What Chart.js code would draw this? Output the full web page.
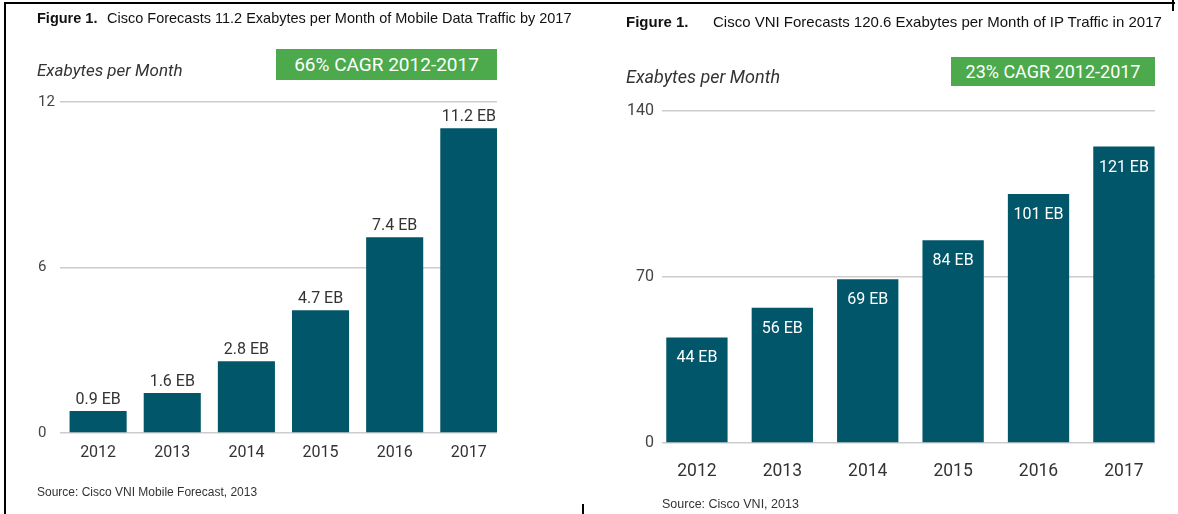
<!DOCTYPE html>
<html>
<head>
<meta charset="utf-8">
<script src="https://cdn.jsdelivr.net/npm/chart.js@4.4.1/dist/chart.umd.min.js"></script>
<style>
  html, body { margin: 0; padding: 0; background: #fff; }
  #page { position: relative; width: 1178px; height: 514px; overflow: hidden; font-family: Roboto, sans-serif; }
  canvas { position: absolute; top: 0; }
  .txt { position: absolute; white-space: nowrap; }
  .fig { font-family: "Liberation Sans", Arial, sans-serif; color: #111; }
  .fig b { font-weight: bold; }
  .unit { font-style: italic; color: #333; }
  .cagr { position: absolute; background: #4caa4c; color: #fff; text-align: center; }
  .src { font-family: "Liberation Sans", Arial, sans-serif; color: #333; }
  .line { position: absolute; background: #000; }
</style>
</head>
<body>
<div id="page">
  <canvas id="chartMobile" width="590" height="514" style="left:0;width:590px;height:514px"></canvas>
  <canvas id="chartIP" width="588" height="514" style="left:590px;width:588px;height:514px"></canvas>

  <!-- kiri -->
  <div class="txt fig" style="left:37px;top:10px;font-size:14.5px;"><b>Figure 1.</b></div>
  <div class="txt fig" style="left:107px;top:10px;font-size:14.5px;">Cisco Forecasts 11.2 Exabytes per Month of Mobile Data Traffic by 2017</div>
  <div class="txt unit" style="left:37px;top:60px;font-size:17px;">Exabytes per Month</div>
  <div class="cagr" style="left:276px;top:49px;width:221px;height:31px;line-height:31px;font-size:19px;">66% CAGR 2012-2017</div>
  <div class="txt src" style="left:37px;top:485px;font-size:12px;">Source: Cisco VNI Mobile Forecast, 2013</div>

  <!-- kanan -->
  <div class="txt fig" style="left:626px;top:13px;font-size:15px;"><b>Figure 1.</b></div>
  <div class="txt fig" style="left:713px;top:13px;font-size:15px;">Cisco VNI Forecasts 120.6 Exabytes per Month of IP Traffic in 2017</div>
  <div class="txt unit" style="left:626px;top:66px;font-size:18px;">Exabytes per Month</div>
  <div class="cagr" style="left:951px;top:57px;width:204px;height:29px;line-height:29px;font-size:18px;">23% CAGR 2012-2017</div>
  <div class="txt src" style="left:662px;top:497px;font-size:12.5px;">Source: Cisco VNI, 2013</div>

  <!-- garis tepi -->
  <div class="line" style="left:4px;top:2px;width:2px;height:512px;"></div>
  <div class="line" style="left:4px;top:2px;width:1171px;height:2px;"></div>
  <div class="line" style="left:1172px;top:0;width:2px;height:11px;"></div>
  <div class="line" style="left:582px;top:504px;width:2px;height:10px;"></div>
</div>

<script>
const years = ["2012", "2013", "2014", "2015", "2016", "2017"];

// bar heights as drawn in the picture, labels as printed
const mobileEB = [0.8, 1.45, 2.6, 4.45, 7.1, 11.05];
const mobileLabels = ["0.9 EB", "1.6 EB", "2.8 EB", "4.7 EB", "7.4 EB", "11.2 EB"];
const mobileTicks = [0, 6, 12];

const ipEB = [44.5, 57, 69, 85.5, 105, 125];
const ipLabels = ["44 EB", "56 EB", "69 EB", "84 EB", "101 EB", "121 EB"];
const ipTicks = [0, 70, 140];

const barColor = "#01566a";
const gridColor = "#cccccc";

Chart.defaults.font.family = "Roboto, sans-serif";
Chart.defaults.animation = false;

function labelPlugin(texts, inside, font) {
  return {
    id: "barLabels",
    afterDatasetsDraw(chart) {
      const ctx = chart.ctx;
      const meta = chart.getDatasetMeta(0);
      ctx.save();
      ctx.font = font;
      ctx.textAlign = "center";
      ctx.textBaseline = "middle";
      meta.data.forEach((bar, i) => {
        if (inside) {
          ctx.fillStyle = "#ffffff";
          ctx.fillText(texts[i], bar.x, bar.y + 21);
        } else {
          ctx.fillStyle = "#333333";
          ctx.fillText(texts[i], bar.x, bar.y - 11);
        }
      });
      ctx.restore();
    },
  };
}

function buatChart(id, values, texts, ticks, opt) {
  const ctx = document.getElementById(id).getContext("2d");
  return new Chart(ctx, {
    type: "bar",
    data: {
      datasets: [
        {
          data: values.map((v, i) => ({ x: i, y: v })),
          backgroundColor: barColor,
          borderWidth: 0,
          categoryPercentage: 1,
          barPercentage: opt.barPct,
        },
      ],
    },
    options: {
      responsive: false,
      layout: { padding: opt.padding },
      plugins: { legend: { display: false }, tooltip: { enabled: false } },
      scales: {
        x: {
          type: "linear",
          offset: false,
          min: opt.xMin,
          max: opt.xMax,
          grid: { display: false, offset: false },
          border: { display: false },
          afterBuildTicks: (s) => {
            s.ticks = years.map((y, i) => ({ value: i }));
          },
          afterFit: (s) => {
            s.height = 50;
          },
          ticks: {
            padding: opt.xPad,
            color: "#333",
            font: { size: opt.xFont },
            callback: (v) => years[v],
          },
        },
        y: {
          min: ticks[0],
          max: ticks[ticks.length - 1],
          afterBuildTicks: (s) => {
            s.ticks = ticks.map((t) => ({ value: t }));
          },
          afterFit: (s) => {
            s.width = opt.yWidth;
          },
          grid: { color: gridColor, lineWidth: 1.5, drawTicks: false },
          border: { display: false },
          ticks: {
            padding: 8,
            crossAlign: opt.yAlign,
            color: "#444",
            font: { size: opt.yFont },
          },
        },
      },
    },
    plugins: [labelPlugin(texts, opt.inside, opt.labelFont)],
  });
}

buatChart("chartMobile", mobileEB, mobileLabels, mobileTicks, {
  padding: { left: 38, right: 93, top: 102, bottom: 31 },
  yWidth: 22,
  yAlign: "far",
  yFont: 15,
  xFont: 16,
  xPad: 2,
  xMin: -0.514,
  xMax: 5.38,
  barPct: 0.77,
  inside: false,
  labelFont: "16px Roboto",
});

buatChart("chartIP", ipEB, ipLabels, ipTicks, {
  padding: { left: 30, right: 23, top: 111, bottom: 21 },
  yWidth: 42,
  yAlign: "near",
  yFont: 16,
  xFont: 17.5,
  xPad: 10,
  xMin: -0.409,
  xMax: 5.364,
  barPct: 0.718,
  inside: true,
  labelFont: "16px Roboto",
});
</script>
</body>
</html>
